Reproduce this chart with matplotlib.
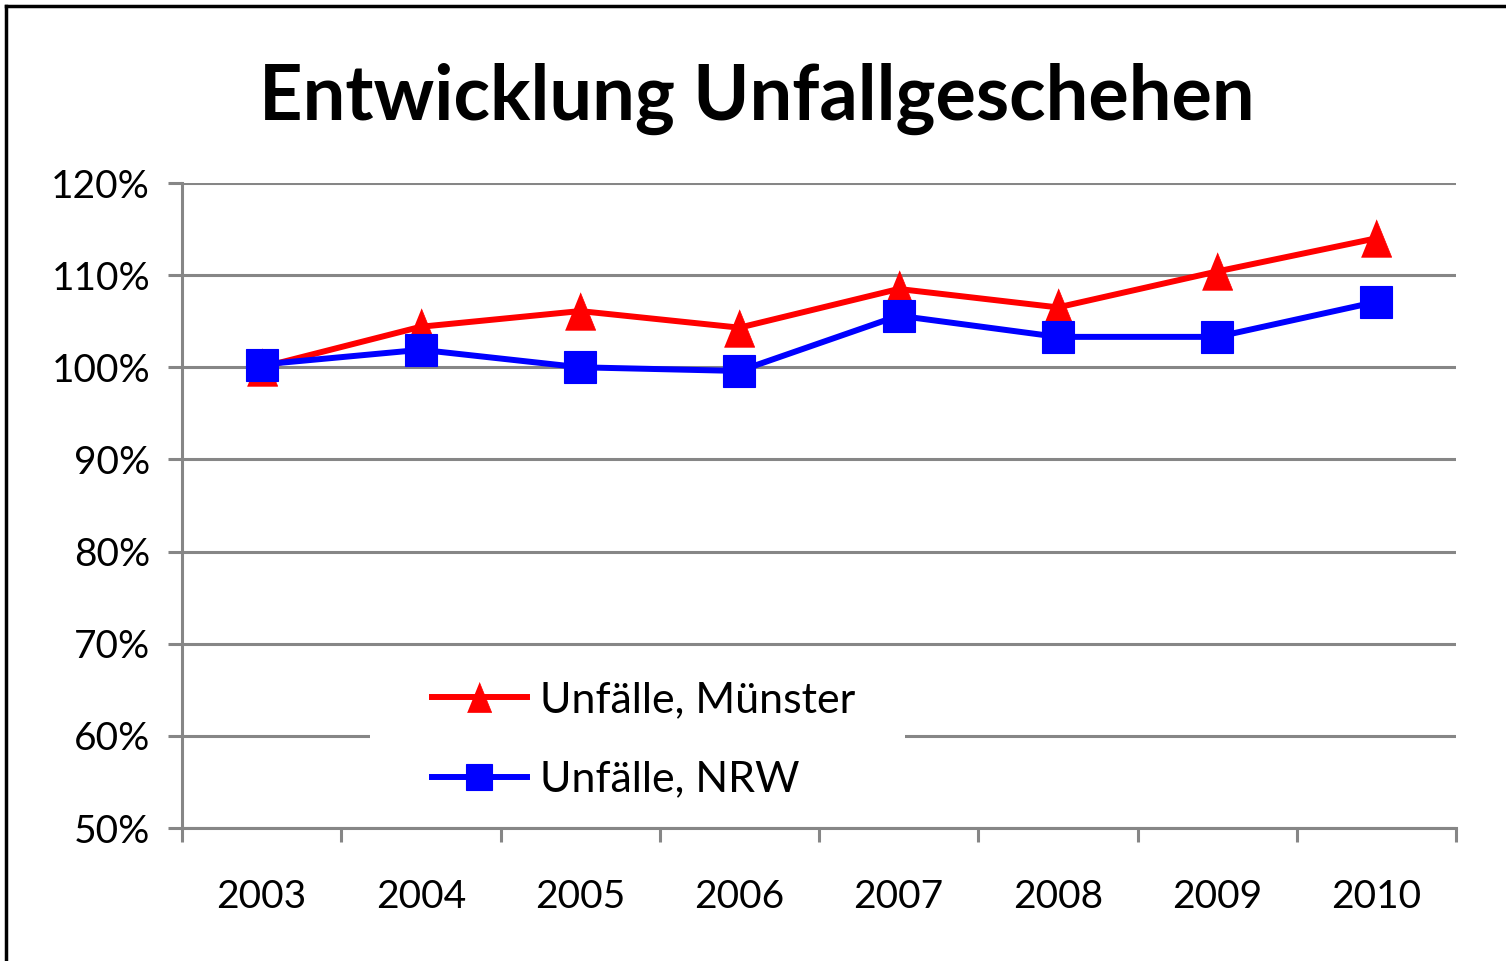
import matplotlib
matplotlib.use("Agg")
import matplotlib.pyplot as plt
from matplotlib.lines import Line2D
from matplotlib.patches import Rectangle
import numpy as np

plt.rcParams['font.family'] = ['Lato', 'DejaVu Sans']

years = ['2003', '2004', '2005', '2006', '2007', '2008', '2009', '2010']
muenster = [100.0, 104.4, 106.1, 104.3, 108.5, 106.5, 110.4, 114.0]
nrw = [100.3, 101.9, 100.0, 99.6, 105.6, 103.3, 103.3, 107.1]
yticks = [50, 60, 70, 80, 90, 100, 110, 120]
title = 'Entwicklung Unfallgeschehen'
labels = ['Unfälle, Münster', 'Unfälle, NRW']

W, H = 1506, 961
fig = plt.figure(figsize=(W / 100, H / 100), dpi=100)
ax = fig.add_axes([182 / W, 1 - 828 / H, (1456 - 182) / W, (828 - 183) / H])

gray = '#868686'
x = np.arange(len(years))
tri = [(-0.81, -1), (0.81, -1), (0, 1)]

ax.plot(x, muenster, color='#ff0000', lw=4.3, marker=tri, ms=27, mec='#ff0000', mew=0.5,
        label=labels[0], zorder=3, solid_joinstyle='miter')
ax.plot(x, nrw, color='#0000ff', lw=4.3, marker='s', ms=23.5, mec='#0000ff', mew=0.8,
        label=labels[1], zorder=4, solid_joinstyle='miter')

ax.set_xlim(-0.5, len(years) - 0.5)
ax.set_ylim(50, 120)
ax.set_yticks(yticks)
ax.set_yticklabels([f'{v}%' for v in yticks])
ax.yaxis.grid(True, color=gray, lw=2.2)
ax.set_axisbelow(True)

ax.set_xticks(np.arange(-0.5, len(years), 1.0))
ax.set_xticklabels([])
ax.set_xticks(x, minor=True)
ax.set_xticklabels(years, minor=True)

for s in ['top', 'right']:
    ax.spines[s].set_visible(False)
for s in ['left', 'bottom']:
    ax.spines[s].set_color(gray)
    ax.spines[s].set_linewidth(2.2)

ax.tick_params(axis='y', which='major', length=10, width=2.2, color=gray,
               labelsize=28, pad=13, labelcolor='black')
ax.tick_params(axis='x', which='major', length=10, width=2.2, color=gray, direction='out')
ax.tick_params(axis='x', which='minor', length=0, labelsize=28, pad=37, labelcolor='black')

# white legend background (covers the 60% gridline only)
ax.add_patch(Rectangle((188 / 1274, 13 / 645), 535 / 1274, 160 / 645,
                       transform=ax.transAxes, facecolor='white', edgecolor='none',
                       zorder=1))

leg = ax.legend(loc='center left', bbox_to_anchor=(250 / 1274, 88 / 645), frameon=False,
                fontsize=31, handlelength=2.2, handletextpad=0.3, labelspacing=0.96,
                borderpad=0, borderaxespad=0, markerscale=0.8)
leg.set_zorder(5)

fig.text(756.5 / W, 1 - 120 / H, title, ha='center', va='baseline',
         fontsize=54.5, fontweight='bold')

# outer frame (left and top edges visible)
fig.add_artist(Line2D([6 / W, 6 / W], [0, 1 - 6 / H], color='black', lw=2.5,
                      transform=fig.transFigure))
fig.add_artist(Line2D([6 / W, 1], [1 - 6 / H, 1 - 6 / H], color='black', lw=2.5,
                      transform=fig.transFigure))

fig.savefig('out.png', dpi=100)
